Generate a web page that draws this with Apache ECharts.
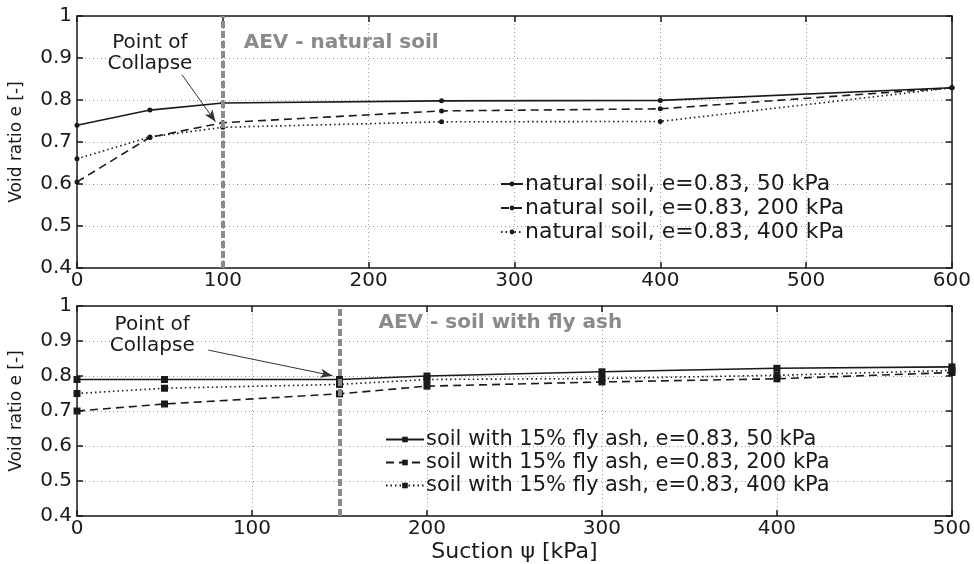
<!DOCTYPE html>
<html>
<head>
<meta charset="utf-8">
<script src="https://cdn.jsdelivr.net/npm/echarts@6/dist/echarts.min.js"></script>
<style>
  html, body { margin: 0; padding: 0; background: #fff; }
  #chart { width: 974px; height: 564px; }
</style>
</head>
<body>
<div id="chart"></div>
<script>
// top panel: natural soil
const suctionTop = [0, 50, 100, 250, 400, 600]
const natural50 = [0.74, 0.776, 0.793, 0.798, 0.799, 0.829]
const natural200 = [0.605, 0.711, 0.746, 0.774, 0.779, 0.829]
const natural400 = [0.66, 0.712, 0.735, 0.748, 0.749, 0.829]

// bottom panel: soil with fly ash
const suctionBottom = [0, 50, 150, 200, 300, 400, 500]
const ash50 = [0.79, 0.79, 0.79, 0.8, 0.812, 0.822, 0.826]
const ash200 = [0.70, 0.72, 0.749, 0.771, 0.783, 0.792, 0.81]
const ash400 = [0.75, 0.765, 0.776, 0.79, 0.793, 0.802, 0.816]

const aevTop = 100
const aevBottom = 150

const FONT = 'DejaVu Sans, Verdana, sans-serif'
const INK = '#1a1a1a'
const GREY = '#8a8a8a'

const pairs = (xs, ys) => xs.map((x, i) => [x, ys[i]])

function axisX(grid, max, interval, withLabels, pos, name) {
  return {
    gridIndex: grid, type: 'value', min: 0, max, interval, position: pos,
    name: name || '', nameLocation: 'middle', nameGap: 25,
    nameTextStyle: { fontFamily: FONT, fontSize: 22, color: INK },
    axisLine: { show: true, onZero: false, lineStyle: { color: INK, width: 1.5 } },
    axisTick: { show: true, inside: true, length: 6, lineStyle: { color: INK, width: 1.5 } },
    axisLabel: { show: withLabels, fontFamily: FONT, fontSize: 20, color: INK, margin: 3 },
    splitLine: { show: withLabels, lineStyle: { color: '#999', type: [1, 3], width: 1 } }
  }
}

function axisY(grid, withLabels, pos) {
  return {
    gridIndex: grid, type: 'value', min: 0.4, max: 1, interval: 0.1, position: pos,
    name: withLabels ? 'Void ratio e [-]' : '', nameLocation: 'middle', nameGap: 52,
    nameTextStyle: { fontFamily: FONT, fontSize: 17, color: INK },
    axisLine: { show: true, onZero: false, lineStyle: { color: INK, width: 1.5 } },
    axisTick: { show: true, inside: true, length: 6, lineStyle: { color: INK, width: 1.5 } },
    axisLabel: { show: withLabels, fontFamily: FONT, fontSize: 20, color: INK, margin: 5 },
    splitLine: { show: withLabels, lineStyle: { color: '#999', type: [1, 3], width: 1 } }
  }
}

function lineSeries(name, grid, data, type, symbol, size) {
  return {
    name, type: 'line', xAxisIndex: grid * 2, yAxisIndex: grid * 2, data,
    symbol, symbolSize: size, showSymbol: true,
    itemStyle: { color: INK },
    lineStyle: { color: INK, width: 1.6, type },
    animation: false
  }
}

function textMark(coord, text, opts) {
  return {
    coord, symbol: 'rect', symbolSize: 1,
    itemStyle: { color: 'rgba(0,0,0,0)' },
    label: Object.assign({
      show: true, formatter: text, fontFamily: FONT, fontSize: 20, color: INK,
      position: 'inside'
    }, opts || {})
  }
}

function notes(grid, aev, aevText, aevCoord, ptCoords, arrow) {
  return {
    type: 'line', xAxisIndex: grid * 2, yAxisIndex: grid * 2, data: [],
    silent: true, animation: false,
    markLine: {
      silent: true, symbol: 'none', label: { show: false },
      data: [
        [{ coord: [aev, 0.4], lineStyle: { color: GREY, width: 4, type: [7, 3] } },
         { coord: [aev, 1] }],
        [{ coord: arrow[0], symbol: 'none', lineStyle: { color: '#333', width: 1, type: 'solid' } },
         { coord: arrow[1], symbol: 'arrow', symbolSize: [7, 12] }]
      ]
    },
    markPoint: {
      silent: true,
      data: [
        textMark(aevCoord, aevText, { fontWeight: 'bold', color: GREY, fontSize: 20, position: 'right', distance: 0 }),
        textMark(ptCoords[0], 'Point of'),
        textMark(ptCoords[1], 'Collapse')
      ]
    }
  }
}

const chart = echarts.init(document.getElementById('chart'), null, { renderer: 'canvas' })

chart.setOption({
  backgroundColor: '#fff',
  animation: false,
  grid: [
    { left: 77, top: 16, width: 875, height: 252 },
    { left: 77, top: 306, width: 875, height: 215 }
  ],
  xAxis: [
    axisX(0, 600, 100, true, 'bottom'),
    axisX(0, 600, 100, false, 'top'),
    axisX(1, 500, 100, true, 'bottom', 'Suction \u03c8 [kPa]'),
    axisX(1, 500, 100, false, 'top')
  ],
  yAxis: [
    axisY(0, true, 'left'),
    axisY(0, false, 'right'),
    axisY(1, true, 'left'),
    axisY(1, false, 'right')
  ],
  legend: [
    {
      left: 495, top: 168, orient: 'vertical', itemGap: 2, itemWidth: 22, itemHeight: 6,
      textStyle: { fontFamily: FONT, fontSize: 22, color: INK, padding: [0, 0, 0, -3] },
      data: ['natural soil, e=0.83, 50 kPa', 'natural soil, e=0.83, 200 kPa', 'natural soil, e=0.83, 400 kPa']
    },
    {
      left: 380, top: 424, orient: 'vertical', itemGap: 2, itemWidth: 38, itemHeight: 7,
      textStyle: { fontFamily: FONT, fontSize: 21, color: INK, padding: [0, 0, 0, -3] },
      data: ['soil with 15% fly ash, e=0.83, 50 kPa', 'soil with 15% fly ash, e=0.83, 200 kPa', 'soil with 15% fly ash, e=0.83, 400 kPa']
    }
  ],
  series: [
    lineSeries('natural soil, e=0.83, 50 kPa', 0, pairs(suctionTop, natural50), 'solid', 'circle', 5),
    lineSeries('natural soil, e=0.83, 200 kPa', 0, pairs(suctionTop, natural200), [8, 5], 'circle', 5),
    lineSeries('natural soil, e=0.83, 400 kPa', 0, pairs(suctionTop, natural400), [1.5, 3], 'circle', 5),
    lineSeries('soil with 15% fly ash, e=0.83, 50 kPa', 1, pairs(suctionBottom, ash50), 'solid', 'rect', 7),
    lineSeries('soil with 15% fly ash, e=0.83, 200 kPa', 1, pairs(suctionBottom, ash200), [8, 5], 'rect', 7),
    lineSeries('soil with 15% fly ash, e=0.83, 400 kPa', 1, pairs(suctionBottom, ash400), [1.5, 3], 'rect', 7),
    notes(0, aevTop, 'AEV - natural soil', [114, 0.936], [[50, 0.936], [50, 0.887]], [[72, 0.86], [95, 0.748]]),
    notes(1, aevBottom, 'AEV - soil with fly ash', [172, 0.952], [[43, 0.947], [43, 0.885]], [[75, 0.874], [146, 0.801]])
  ]
})
</script>
</body>
</html>
